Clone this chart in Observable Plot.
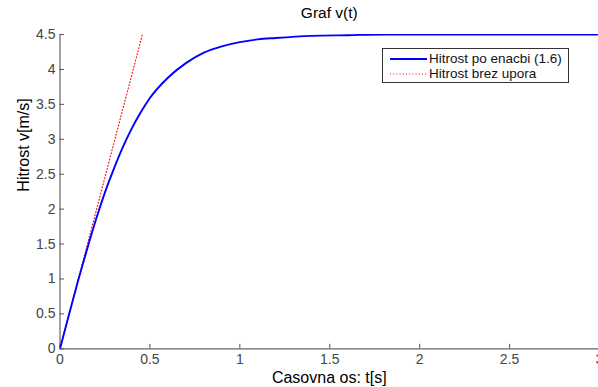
<!DOCTYPE html>
<html>
<head>
<meta charset="utf-8">
<script src="https://cdn.jsdelivr.net/npm/d3@7"></script>
<script src="https://cdn.jsdelivr.net/npm/@observablehq/plot@0.6"></script>
<style>
  html, body { margin: 0; padding: 0; background: #fff; }
  #wrap { position: relative; width: 598px; height: 387px; overflow: hidden; font-family: "Liberation Sans", Arial, sans-serif; }
  #legend { position: absolute; left: 382px; top: 48px; width: 187px; height: 35px; border: 1px solid #333; background: #fff; box-sizing: border-box; font-size: 13.5px; color: #111; }
  .row { position: absolute; left: 7px; height: 15px; line-height: 15px; white-space: nowrap; }
  .row svg { position: absolute; left: 0; top: 0; }
  .row span { position: absolute; left: 39px; top: 0; }
</style>
</head>
<body>
<div id="wrap"></div>
<script>
// Time samples [s]
const tBlue = [0, 0.05, 0.1, 0.15, 0.2, 0.25, 0.3, 0.35, 0.4, 0.45, 0.5, 0.6, 0.7, 0.8, 0.9, 1.0, 1.1, 1.2, 1.4, 1.6, 1.8, 2.0, 2.5, 3.0];
// Hitrost po enacbi (1.6) [m/s]
const vBlue = [0, 0.49, 0.97, 1.42, 1.85, 2.24, 2.58, 2.89, 3.16, 3.39, 3.59, 3.88, 4.09, 4.24, 4.33, 4.39, 4.43, 4.45, 4.48, 4.49, 4.50, 4.50, 4.50, 4.50];
// Hitrost brez upora
const tRed = [0, 0.458];
const vRed = [0, 4.5];
// Tick labels
const xTicks = [0, 0.5, 1, 1.5, 2, 2.5, 3];
const yTicks = [0, 0.5, 1, 1.5, 2, 2.5, 3, 3.5, 4, 4.5];

const blue = tBlue.map((t, i) => ({t, v: vBlue[i]}));
const red = tRed.map((t, i) => ({t, v: vRed[i]}));

const W = 598, H = 387, mL = 59.5, mT = 34, mB = 38.7;
const plotH = H - mT - mB, plotW = W - mL;

const chart = Plot.plot({
  width: W, height: H,
  marginLeft: mL, marginRight: 0, marginTop: mT, marginBottom: mB,
  style: {fontFamily: '"Liberation Sans", Arial, sans-serif', fontSize: "14px", background: "#fff", overflow: "hidden"},
  x: {domain: [0, 3], range: [mL, 599]},
  y: {domain: [0, 4.5], range: [H - mB, mT]},
  marks: [
    Plot.ruleY([0], {stroke: "#666", strokeWidth: 1.2}),
    Plot.ruleX([0], {stroke: "#444", strokeWidth: 1}),
    Plot.tickX(xTicks, {x: d => d, stroke: "#555", insetTop: plotH - 4.5}),
    Plot.tickY(yTicks, {y: d => d, stroke: "#555", insetRight: plotW - 4.5}),
    Plot.axisX({ticks: xTicks, tickSize: 0, tickPadding: 5, tickFormat: d => String(d), fill: "#444", fontSize: 14, label: null}),
    Plot.axisY({ticks: yTicks, tickSize: 0, tickPadding: 4.5, tickFormat: d => String(d), fill: "#444", fontSize: 14, label: null}),
    Plot.line(red, {x: "t", y: "v", stroke: "#ff0000", strokeWidth: 1.1, strokeDasharray: "1,2.2", clip: true}),
    Plot.line(blue, {x: "t", y: "v", stroke: "#0000ff", strokeWidth: 1.9, curve: "monotone-x", clip: true}),
    Plot.text(["Graf v(t)"], {frameAnchor: "top", lineAnchor: "bottom", dy: -17, fontSize: 15.5, fill: "#000"}),
    Plot.text(["Casovna os: t[s]"], {frameAnchor: "bottom", lineAnchor: "bottom", dy: 34.5, fontSize: 16, fill: "#000"}),
    Plot.text(["Hitrost v[m/s]"], {frameAnchor: "left", lineAnchor: "bottom", rotate: -90, dx: -31, fontSize: 16, fill: "#000"})
  ]
});
const wrap = document.getElementById("wrap");
wrap.appendChild(chart);

const legend = document.createElement("div");
legend.id = "legend";
legend.innerHTML = `
  <div class="row" style="top:2px"><svg width="38" height="15"><line x1="0" x2="37" y1="8" y2="8" stroke="#0000ff" stroke-width="1.9"/></svg><span>Hitrost po enacbi (1.6)</span></div>
  <div class="row" style="top:17px"><svg width="38" height="15"><line x1="0" x2="37" y1="8" y2="8" stroke="#ff0000" stroke-width="1.1" stroke-dasharray="1,2.2"/></svg><span>Hitrost brez upora</span></div>`;
wrap.appendChild(legend);
</script>
</body>
</html>
